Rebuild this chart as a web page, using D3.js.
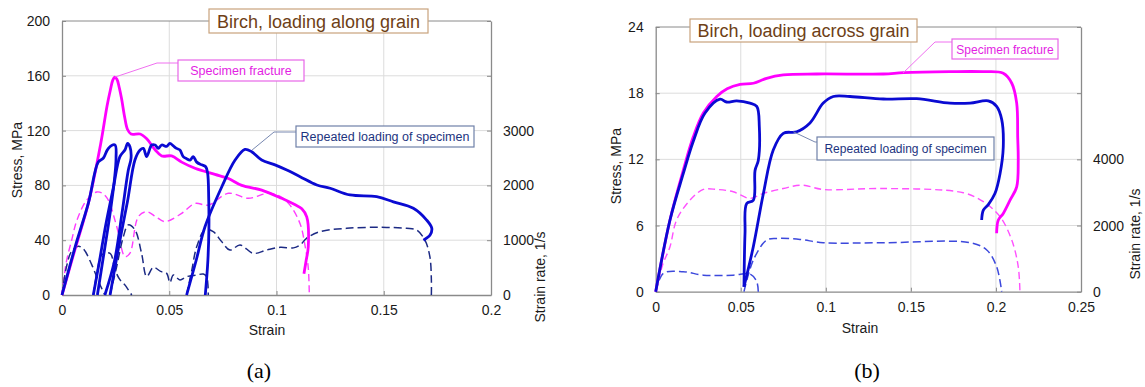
<!DOCTYPE html>
<html>
<head>
<meta charset="utf-8">
<script src="https://cdn.jsdelivr.net/npm/d3@7"></script>
<style>
  body { margin: 0; background: #fff; }
  svg { display: block; }
</style>
</head>
<body>
<div id="chart"></div>
<script>
// ---- (a) along grain: [strain, stress MPa] / [strain, strain rate 1/s]
const alongFractureStress = [[0,0],[0.006,33],[0.0123,67],[0.018,110],[0.021,138],[0.0226,150],[0.0236,156.5],[0.0246,159],[0.0256,157.5],[0.0266,152],[0.0278,143],[0.0292,130],[0.0305,121],[0.0322,117.5],[0.0364,117.5],[0.0395,114],[0.0434,106],[0.0465,101.5],[0.0511,101.5],[0.0558,97],[0.062,92.5],[0.0713,88],[0.0776,85],[0.0838,80],[0.0931,76.6],[0.1024,70.6],[0.1085,66],[0.1118,63],[0.1141,57],[0.1148,35],[0.1138,25],[0.1128,15.5]];
const alongFractureRate = [[0,0],[0.002,600],[0.0045,1000],[0.007,1370],[0.0115,1730],[0.0162,1880],[0.019,1850],[0.0216,1730],[0.0255,1250],[0.0294,700],[0.0317,766],[0.0356,1430],[0.0395,1520],[0.044,1420],[0.048,1340],[0.0558,1490],[0.062,1670],[0.0682,1640],[0.0776,1856],[0.0869,1765],[0.0962,1856],[0.1017,1800],[0.1063,1640],[0.111,1300],[0.1133,900],[0.1148,500],[0.1153,0]];
const alongRepeatStress = [
  [[0,0],[0.0061,35],[0.0123,67],[0.0169,97],[0.0193,100],[0.0216,107],[0.0247,109.5],[0.0252,100],[0.0245,85],[0.022,55],[0.019,25],[0.0165,0]],
  [[0.0146,0],[0.0175,25],[0.0205,52],[0.0239,78],[0.027,101],[0.0294,106],[0.0306,110.7],[0.0317,108],[0.0322,100],[0.0309,91],[0.028,60],[0.0245,25],[0.02,0]],
  [[0.0224,0],[0.027,40],[0.0305,68],[0.034,98.5],[0.0364,105.8],[0.0379,107],[0.0395,101],[0.0418,109.5],[0.0434,109.5],[0.0449,107],[0.0465,109.5],[0.0488,108.5],[0.0503,110.7],[0.0519,108.8],[0.0534,107],[0.055,105.8],[0.0565,101],[0.0581,99.5],[0.0597,98.5],[0.0612,101],[0.0628,97],[0.0651,95],[0.067,93.6],[0.0679,88.8],[0.0684,70],[0.0685,50],[0.068,25],[0.0668,0]],
  [[0.0581,0],[0.0625,25],[0.0667,50],[0.0745,79],[0.0807,98.5],[0.0853,106.3],[0.0884,104.6],[0.0931,98.5],[0.0993,95],[0.1048,91.2],[0.111,86.4],[0.1188,80.3],[0.125,77.9],[0.1343,73],[0.1467,71.8],[0.1545,68],[0.1638,63.3],[0.17,54.7],[0.1724,48.7],[0.1716,43.8],[0.1685,40]]
];
const alongRepeatRate = [
  [[0,0],[0.002,500],[0.0045,800],[0.0076,890],[0.01,840],[0.0138,560],[0.0162,330],[0.0185,120],[0.02,0]],
  [[0.0146,0],[0.0165,450],[0.0185,730],[0.0224,760],[0.0247,460],[0.027,280],[0.0294,180],[0.031,90],[0.0325,0]],
  [[0.0224,0],[0.0255,520],[0.0286,1064],[0.0309,1280],[0.034,1190],[0.0371,760],[0.0395,335],[0.0426,505],[0.046,430],[0.0488,395],[0.0503,225],[0.0519,365],[0.055,274],[0.0581,335],[0.0628,365],[0.0659,383],[0.0674,335],[0.068,200],[0.0682,0]],
  [[0.0581,0],[0.0605,450],[0.0628,880],[0.0667,1190],[0.0705,1155],[0.0744,975],[0.0783,820],[0.083,912],[0.0892,760],[0.0954,821],[0.1017,870],[0.1079,860],[0.111,912],[0.114,1035],[0.1202,1155],[0.1327,1217],[0.1482,1235],[0.1606,1217],[0.1653,1186],[0.1692,1000],[0.1715,700],[0.1722,274],[0.1722,0]]
];

// ---- (b) across grain
const acrossFractureStress = [[0,0],[0.0084,6.5],[0.0162,11],[0.022,14],[0.028,16.2],[0.0359,17.7],[0.042,18.4],[0.0496,18.8],[0.0574,18.9],[0.0652,19.35],[0.075,19.65],[0.0946,19.74],[0.1338,19.74],[0.1456,19.86],[0.173,19.95],[0.1926,19.95],[0.2043,19.8],[0.2093,18.9],[0.2122,17.1],[0.2128,14],[0.2131,11.9],[0.2122,9.5],[0.2083,8.3],[0.2043,7.1],[0.2014,6.5],[0.2004,5.3]];
const acrossFractureRate = [[0,0],[0.004,800],[0.0084,1360],[0.0123,2170],[0.0202,2770],[0.028,3090],[0.0359,3090],[0.0456,3020],[0.0554,2820],[0.0633,2970],[0.075,3120],[0.0858,3220],[0.0985,3090],[0.1338,3120],[0.1808,2990],[0.1926,2720],[0.2024,2270],[0.2093,1560],[0.2131,760],[0.2141,0]];
const acrossRepeatStress = [
  [[0,0],[0.0084,6.5],[0.0162,10.7],[0.022,13.6],[0.029,16.2],[0.0378,17.45],[0.0417,17.2],[0.0476,17.3],[0.0554,17.1],[0.0594,16.8],[0.0609,15],[0.0603,11.9],[0.0584,11],[0.0574,8.3],[0.0535,8],[0.0525,5.3],[0.0519,0.45]],
  [[0.0519,0.45],[0.0574,4.1],[0.0633,8.9],[0.0691,12.85],[0.075,14.36],[0.0829,14.5],[0.0907,15.3],[0.0985,17.1],[0.1044,17.7],[0.1142,17.7],[0.1338,17.47],[0.1534,17.5],[0.173,17.1],[0.1848,17.1],[0.1955,17.3],[0.2004,16.8],[0.2034,15.6],[0.2043,13.1],[0.2024,10.7],[0.1994,8.9],[0.1955,7.9],[0.1926,7.4],[0.1916,6.5]]
];
const acrossRepeatRate = [
  [[0,0],[0.0045,555],[0.0162,605],[0.028,500],[0.0456,500],[0.0554,535],[0.0594,300],[0.0603,0]],
  [[0.0519,0],[0.0574,957],[0.0652,1560],[0.0711,1610],[0.0848,1580],[0.0985,1480],[0.1338,1480],[0.1848,1480],[0.1946,1260],[0.2004,756],[0.2034,0]]
];

// ---- tick values
const alongStrainTicks = [0, 0.05, 0.1, 0.15, 0.2];
const alongStressTicks = [0, 40, 80, 120, 160, 200];
const alongRateTicks = [0, 1000, 2000, 3000, 4000, 5000];
const alongRateLabels = [0, 1000, 2000, 3000];
const acrossStrainTicks = [0, 0.05, 0.1, 0.15, 0.2, 0.25];
const acrossStressTicks = [0, 6, 12, 18, 24];
const acrossRateTicks = [0, 2000, 4000, 6000, 8000];
const acrossRateLabels = [0, 2000, 4000];

const FONT = "'Liberation Sans', Arial, sans-serif";
const MAGENTA = "#ff00ff";
const BLUE = "#0a0ad2";

const svg = d3.select("#chart").append("svg")
  .attr("width", 1145).attr("height", 387)
  .style("font-family", FONT);
svg.append("rect").attr("width", 1145).attr("height", 387).attr("fill", "#fff");

function drawPanel(p) {
  const x = d3.scaleLinear().domain([0, d3.max(p.xTicks)]).range([p.left, p.right]);
  const y = d3.scaleLinear().domain([0, d3.max(p.yTicks)]).range([p.bottom, p.top]);
  const yr = d3.scaleLinear().domain([0, d3.max(p.rTicks)]).range([p.bottom, p.top]);
  const g = svg.append("g");

  // grid
  g.append("g").selectAll("line").data(p.yTicks.slice(1, -1)).join("line")
    .attr("x1", p.left).attr("x2", p.right)
    .attr("y1", d => y(d)).attr("y2", d => y(d))
    .attr("stroke", "#dcdcdc").attr("stroke-width", 1);
  g.append("g").selectAll("line").data(p.xTicks.slice(1, -1)).join("line")
    .attr("x1", d => x(d)).attr("x2", d => x(d))
    .attr("y1", p.top).attr("y2", p.bottom)
    .attr("stroke", "#dcdcdc").attr("stroke-width", 1);
  g.append("line")
    .attr("x1", p.left).attr("x2", p.right).attr("y1", p.top).attr("y2", p.top)
    .attr("stroke", "#8a8a8a");

  const styleAxis = (sel) => {
    sel.attr("font-family", FONT).attr("font-size", 14);
    sel.select(".domain").attr("stroke", "#8a8a8a").attr("stroke-width", 1.3);
    sel.selectAll(".tick line").attr("stroke", "#8a8a8a");
    sel.selectAll(".tick text").attr("fill", "#1a1a1a");
  };

  g.append("g").attr("transform", `translate(0,${p.bottom})`)
    .call(d3.axisBottom(x).tickValues(p.xTicks).tickSize(-4).tickSizeOuter(0).tickPadding(10)
      .tickFormat(d => d === 0 ? "0" : String(d)))
    .call(styleAxis);
  g.append("g").attr("transform", `translate(${p.left},0)`)
    .call(d3.axisLeft(y).tickValues(p.yTicks).tickSize(-4).tickSizeOuter(0).tickPadding(12))
    .call(styleAxis);
  g.append("g").attr("transform", `translate(${p.right},0)`)
    .call(d3.axisRight(yr).tickValues(p.rTicks).tickSize(-4).tickSizeOuter(0).tickPadding(12)
      .tickFormat(d => p.rLabels.includes(d) ? String(d) : ""))
    .call(styleAxis);

  // axis titles
  g.append("text").attr("x", p.xTitle[0]).attr("y", p.xTitle[1])
    .attr("text-anchor", "middle").attr("font-size", 14).attr("fill", "#1a1a1a").text("Strain");
  g.append("text").attr("transform", `translate(${p.yTitle[0]},${p.yTitle[1]}) rotate(-90)`)
    .attr("text-anchor", "middle").attr("font-size", 14).attr("fill", "#1a1a1a").text("Stress, MPa");
  g.append("text").attr("transform", `translate(${p.rTitle[0]},${p.rTitle[1]}) rotate(-90)`)
    .attr("text-anchor", "middle").attr("font-size", 14).attr("fill", "#1a1a1a").text("Strain rate, 1/s");

  const stressLine = d3.line().x(d => x(d[0])).y(d => y(d[1])).curve(d3.curveCatmullRom.alpha(0.5));
  const rateLine = d3.line().x(d => x(d[0])).y(d => yr(d[1])).curve(d3.curveCatmullRom.alpha(0.5));

  // strain-rate curves (dashed)
  g.append("path").datum(p.fractureRate).attr("d", rateLine)
    .attr("fill", "none").attr("stroke", p.rateMagenta).attr("stroke-width", 1.4)
    .attr("stroke-dasharray", "7,4");
  g.append("g").selectAll("path").data(p.repeatRate).join("path").attr("d", rateLine)
    .attr("fill", "none").attr("stroke", p.rateBlue).attr("stroke-width", 1.5)
    .attr("stroke-dasharray", "8,4");

  // stress curves (solid)
  g.append("path").datum(p.fractureStress).attr("d", stressLine)
    .attr("fill", "none").attr("stroke", MAGENTA).attr("stroke-width", 2.8)
    .attr("stroke-linejoin", "round");
  g.append("g").selectAll("path").data(p.repeatStress).join("path").attr("d", stressLine)
    .attr("fill", "none").attr("stroke", BLUE).attr("stroke-width", 2.8)
    .attr("stroke-linejoin", "round");

  // title box
  const t = p.title;
  g.append("rect").attr("x", t.x).attr("y", t.y).attr("width", t.w).attr("height", t.h)
    .attr("fill", "#fff").attr("stroke", "#c9a27c").attr("stroke-width", 1.2);
  g.append("text").attr("x", t.x + t.w / 2).attr("y", t.y + t.h / 2 + 6.5)
    .attr("text-anchor", "middle").attr("font-size", 18).attr("fill", "#6e3f17").text(t.text);

  // callouts
  p.notes.forEach(n => {
    const ax = x(n.anchor[0]), ay = y(n.anchor[1]);
    g.append("polyline")
      .attr("points", [[ax, ay], n.elbow, [n.box.x, n.elbow[1]]].map(q => q.join(",")).join(" "))
      .attr("fill", "none").attr("stroke", n.line).attr("stroke-width", 1);
    g.append("rect").attr("x", n.box.x).attr("y", n.box.y).attr("width", n.box.w).attr("height", n.box.h)
      .attr("fill", "#fff").attr("stroke", n.border).attr("stroke-width", 1.2);
    g.append("text").attr("x", n.box.x + n.box.w / 2).attr("y", n.box.y + n.box.h / 2 + 4.5)
      .attr("text-anchor", "middle").attr("font-size", n.fs).attr("fill", n.color).text(n.text);
  });

  svg.append("text").attr("x", p.caption[0]).attr("y", p.caption[1])
    .attr("text-anchor", "middle").attr("font-family", "'Liberation Serif', 'Times New Roman', serif")
    .attr("font-size", 22).attr("fill", "#000").text(p.caption[2]);
}

drawPanel({
  left: 62, right: 491, top: 21, bottom: 295,
  xTicks: alongStrainTicks, yTicks: alongStressTicks, rTicks: alongRateTicks, rLabels: alongRateLabels,
  fractureStress: alongFractureStress, fractureRate: alongFractureRate,
  repeatStress: alongRepeatStress, repeatRate: alongRepeatRate,
  rateMagenta: "#ff3cff", rateBlue: "#1c2a84",
  xTitle: [267, 335], yTitle: [22, 160], rTitle: [545, 277],
  title: { x: 209, y: 9, w: 219, h: 24, text: "Birch, loading along grain" },
  notes: [
    { anchor: [0.0246, 159], elbow: [157, 63], box: { x: 178, y: 60, w: 126, h: 21 },
      text: "Specimen fracture", fs: 12.5, color: "#e31ee3", border: "#e866e8", line: "#f070f0" },
    { anchor: [0.0886, 105.8], elbow: [274, 132], box: { x: 296, y: 126, w: 178, h: 21 },
      text: "Repeated loading of specimen", fs: 12.5, color: "#1d3480", border: "#6f80a8", line: "#7888b0" }
  ],
  caption: [259, 378, "(a)"]
});

drawPanel({
  left: 655.7, right: 1081, top: 27, bottom: 291.7,
  xTicks: acrossStrainTicks, yTicks: acrossStressTicks, rTicks: acrossRateTicks, rLabels: acrossRateLabels,
  fractureStress: acrossFractureStress, fractureRate: acrossFractureRate,
  repeatStress: acrossRepeatStress, repeatRate: acrossRepeatRate,
  rateMagenta: "#ff50ff", rateBlue: "#3c48dc",
  xTitle: [860, 333], yTitle: [621, 166], rTitle: [1140, 234],
  title: { x: 690, y: 19, w: 227, h: 23, text: "Birch, loading across grain" },
  notes: [
    { anchor: [0.1454, 19.83], elbow: [935, 42], box: { x: 952, y: 39, w: 106, h: 20 },
      text: "Specimen fracture", fs: 12, color: "#e31ee3", border: "#e866e8", line: "#f070f0" },
    { anchor: [0.0809, 14.5], elbow: [815, 142], box: { x: 817, y: 137, w: 177, h: 23 },
      text: "Repeated loading of specimen", fs: 12, color: "#1d3480", border: "#6f80a8", line: "#7888b0" }
  ],
  caption: [867, 378, "(b)"]
});
</script>
</body>
</html>
